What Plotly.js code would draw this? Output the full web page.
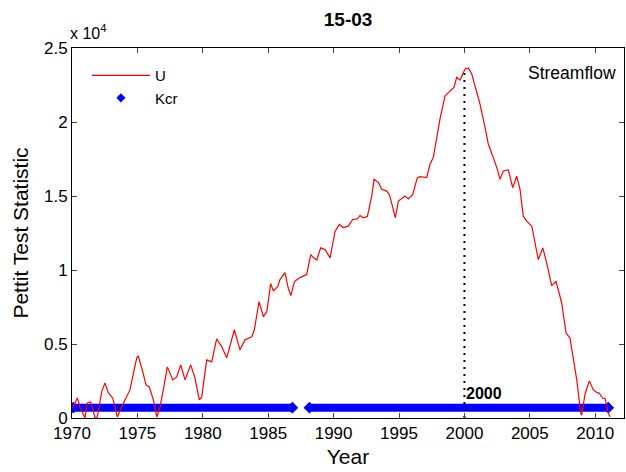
<!DOCTYPE html>
<html>
<head>
<meta charset="utf-8">
<script src="https://cdn.plot.ly/plotly-3.0.1.min.js"></script>
<style>html,body{margin:0;padding:0;background:#fff;}#chart{width:626px;height:472px;}</style>
</head>
<body>
<div id="chart"></div>
<script>
// U statistic (Pettitt test)
const years = [1970.05,1970.41,1970.61,1970.99,1971.17,1971.43,1971.76,1971.93,1972.27,1972.52,1972.78,1973.11,1973.29,1973.46,1974.05,1974.43,1974.95,1975.07,1975.41,1975.66,1975.91,1976.22,1976.48,1976.73,1976.98,1977.29,1977.70,1978.00,1978.31,1978.64,1979.07,1979.40,1979.73,1979.92,1980.30,1980.68,1981.06,1981.45,1981.83,1982.41,1982.84,1983.23,1983.74,1983.94,1984.30,1984.63,1984.89,1985.19,1985.39,1985.73,1985.90,1986.28,1986.54,1986.74,1987.00,1987.43,1987.94,1988.25,1988.45,1988.71,1989.01,1989.34,1989.73,1990.11,1990.44,1990.74,1991.12,1991.46,1991.81,1992.02,1992.27,1992.58,1992.91,1993.09,1993.42,1993.68,1994.06,1994.26,1994.52,1994.72,1994.95,1995.13,1995.46,1995.71,1996.05,1996.40,1996.61,1997.12,1997.37,1997.62,1997.88,1998.13,1998.52,1998.90,1999.20,1999.41,1999.66,2000.05,2000.30,2000.56,2000.94,2001.19,2001.58,2001.83,2002.21,2002.52,2002.72,2002.97,2003.36,2003.69,2004.00,2004.25,2004.50,2004.76,2005.15,2005.40,2005.65,2005.99,2006.29,2006.67,2007.00,2007.44,2007.77,2008.07,2008.59,2008.89,2008.97,2009.22,2009.55,2009.86,2010.12,2010.31,2010.57,2010.75,2011.00,2011.13];
const U = [680,1355,745,0,1016,1084,0,68,1762,2371,1694,1355,745,68,1220,1897,4065,4201,3117,2236,2100,1220,68,745,1897,3455,2575,2778,3591,2575,3591,2710,1220,1423,3930,3794,5352,4810,4065,5962,4607,5285,5488,5962,7859,6843,7182,9079,8604,8875,9350,9824,8740,8266,9214,9485,9688,11043,10840,10671,11497,11382,10820,12602,13076,12873,12961,13415,13448,13686,13530,13618,14973,16125,15921,15447,15332,15108,14228,13530,14654,14770,14993,14803,15108,16240,16307,16240,17141,17595,18835,20190,21768,22066,22337,23015,22832,23577,23645,23238,22107,21206,19627,18496,17595,16802,16125,16687,16755,15562,16348,15447,13638,13299,12961,11836,10705,11497,10481,8943,9234,7771,5738,5400,2575,318,203,1626,2507,1897,1728,1673,1335,1335,339,88];

// Critical value Kcr and the periods over which it is plotted
const kcrValue = 700;
const kcrX = [1970.1, 1986.85, null, 1988.15, 2011.0];
const kcrY = [kcrValue, kcrValue, null, kcrValue, kcrValue];

// change point
const changeYear = 2000;
const changePeak = 23600;

const xTicks = [1970,1975,1980,1985,1990,1995,2000,2005,2010];
const yTicks = [0,5000,10000,15000,20000,25000];
const yTickText = ['0','0.5','1','1.5','2','2.5'];

const FONT = 'Liberation Sans, Arial, sans-serif';

const traces = [
  {x: kcrX, y: kcrY, mode: 'lines+markers', line: {color: '#0000ff', width: 8},
   marker: {symbol: 'diamond', size: 9, color: '#0000ff'}, showlegend: false, hoverinfo: 'skip',
   connectgaps: false},
  {x: [changeYear, changeYear], y: [0, changePeak], mode: 'lines',
   line: {color: '#000', width: 2, dash: '2px,5px'}, showlegend: false},
  {x: years, y: U, mode: 'lines', name: 'U', line: {color: '#ff0000', width: 1.2}},
  {x: [null], y: [null], mode: 'markers', name: 'Kcr',
   marker: {symbol: 'diamond', size: 7, color: '#0000ff'}}
];

const layout = {
  width: 626, height: 472,
  margin: {l: 72, r: 2, t: 48, b: 54},
  paper_bgcolor: '#fff', plot_bgcolor: '#fff',
  font: {family: FONT, color: '#000', size: 15},
  title: {text: '<b>15-03</b>', x: 0.556, xanchor: 'center', y: 0.958, yanchor: 'middle',
          font: {family: FONT, size: 19, color: '#000'}},
  xaxis: {range: [1970, 2012.2], tickvals: xTicks, ticks: 'inside', ticklen: 5,
          showline: true, mirror: 'ticks', linecolor: '#000', linewidth: 1,
          showgrid: false, zeroline: false, tickfont: {size: 17},
          title: {text: 'Year', font: {size: 21}, standoff: 6}},
  yaxis: {range: [0, 25000], tickvals: yTicks, ticktext: yTickText, ticks: 'inside', ticklen: 5,
          showline: true, mirror: 'ticks', linecolor: '#000', linewidth: 1,
          showgrid: false, zeroline: false, tickfont: {size: 17},
          title: {text: 'Pettit Test Statistic', font: {size: 21}, standoff: 9}},
  showlegend: true,
  legend: {x: 0.027, y: 0.97, xanchor: 'left', yanchor: 'top', bgcolor: 'rgba(0,0,0,0)',
           borderwidth: 0, font: {size: 15}, itemwidth: 58, tracegroupgap: 0},
  annotations: [
    {xref: 'paper', yref: 'paper', x: 0.99, y: 0.932, xanchor: 'right', yanchor: 'middle',
     text: 'Streamflow', showarrow: false, font: {size: 17.5}},
    {xref: 'x', yref: 'y', x: changeYear, y: 950, xanchor: 'left', yanchor: 'bottom',
     text: '<b>2000</b>', showarrow: false, font: {size: 16}, xshift: 0},
    {xref: 'paper', yref: 'paper', x: 0, y: 1.01, xanchor: 'left', yanchor: 'bottom',
     text: 'x 10<sup>4</sup>', showarrow: false, font: {size: 16}, xshift: -4}
  ]
};

Plotly.newPlot('chart', traces, layout, {displayModeBar: false, staticPlot: true});
</script>
</body>
</html>
